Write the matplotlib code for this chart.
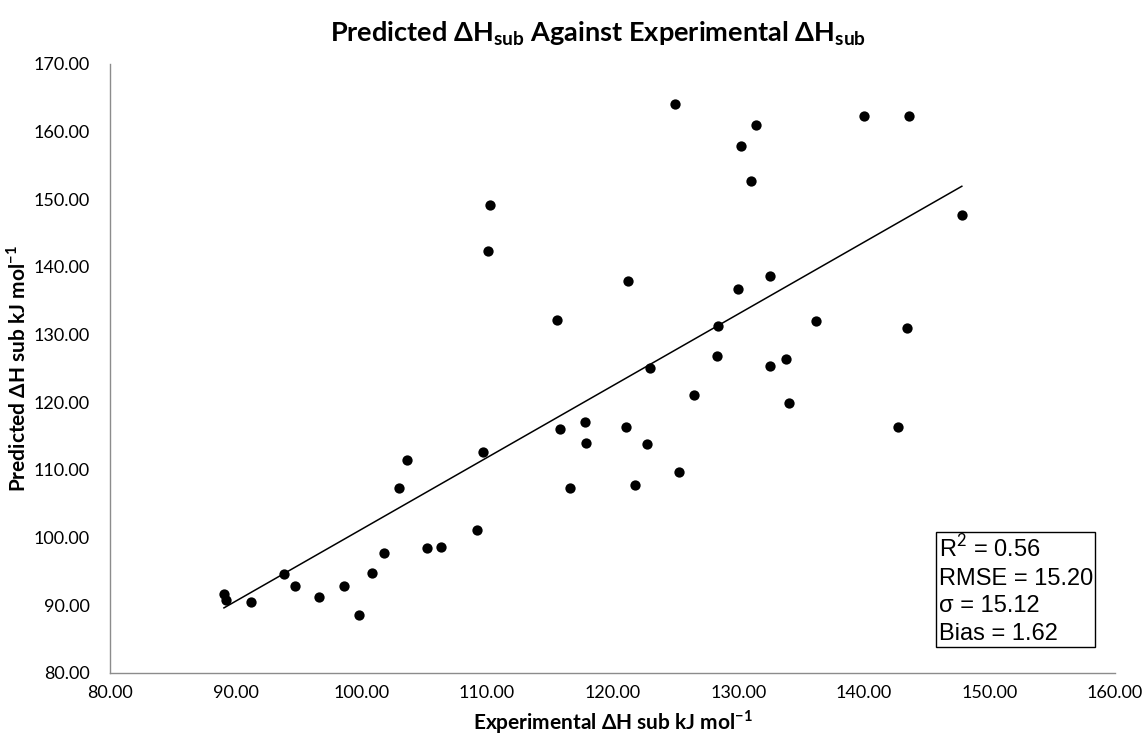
import numpy as np
import matplotlib
matplotlib.use("Agg")
import matplotlib.pyplot as plt

plt.rcParams['font.family'] = ['Lato', 'DejaVu Sans']
plt.rcParams['mathtext.fontset'] = 'custom'
plt.rcParams['mathtext.rm'] = 'Lato'
plt.rcParams['mathtext.bf'] = 'Lato:bold'

# Experimental vs predicted enthalpy of sublimation (kJ/mol)
experimental = [89.05, 89.19, 91.2, 93.8, 94.7, 96.6, 98.6, 99.8, 100.8,
                101.8, 103.0, 103.6, 105.2, 106.3, 109.2, 109.7, 115.8, 116.6,
                117.8, 117.9, 121.1, 121.8, 122.7, 125.3, 126.5,
                125.0, 131.4, 130.2, 131.0, 110.2, 110.1, 121.2, 115.6, 130.0,
                132.5, 128.4, 128.3, 132.5, 123.0,
                140.0, 143.6, 147.8, 136.2, 143.4, 133.8, 134.0, 142.7]
predicted = [91.6, 90.75, 90.4, 94.6, 92.8, 91.25, 92.8, 88.55, 94.8,
             97.65, 107.3, 111.45, 98.5, 98.65, 101.05, 112.7, 116.1, 107.35,
             117.1, 114.0, 116.3, 107.8, 113.85, 109.7, 121.1,
             164.15, 161.0, 157.85, 152.75, 149.15, 142.4, 137.9, 132.15, 136.8,
             138.6, 131.3, 126.75, 125.35, 125.0,
             162.25, 162.3, 147.65, 132.05, 131.0, 126.35, 119.9, 116.4]

x_ticks = [80, 90, 100, 110, 120, 130, 140, 150, 160]
y_ticks = [80, 90, 100, 110, 120, 130, 140, 150, 160, 170]
stats_lines = ["R$^2$ = 0.56", "RMSE = 15.20", "σ = 15.12", "Bias = 1.62"]

fig = plt.figure(figsize=(11.44, 7.38), dpi=100)
ax = fig.add_axes([0.0964, 0.0885, 0.8783, 0.8248])

x = np.array(experimental)
y = np.array(predicted)
ax.scatter(x, y, s=55, color='black', zorder=3, linewidths=0)

# Linear trend line across the data range
slope, intercept = np.polyfit(x, y, 1)
xs = np.array([x.min(), x.max()])
ax.plot(xs, slope * xs + intercept, color='black', lw=1.1, zorder=2)

ax.set_xlim(80, 160)
ax.set_ylim(80, 170)
ax.set_xticks(x_ticks)
ax.set_yticks(y_ticks)
ax.set_xticklabels([f"{v:.2f}" for v in x_ticks], fontsize=13)
ax.set_yticklabels([f"{v:.2f}" for v in y_ticks], fontsize=13)
ax.tick_params(axis='y', length=0, pad=15)
ax.tick_params(axis='x', length=0, pad=9)
for side in ('top', 'right'):
    ax.spines[side].set_visible(False)
for side in ('left', 'bottom'):
    ax.spines[side].set_color('#8c8c8c')
    ax.spines[side].set_linewidth(1.0)

ax.set_xlabel(r"Experimental ΔH sub kJ mol$^{\mathbf{-1}}$", fontsize=15,
              fontweight='bold', labelpad=5)
ax.set_ylabel(r"Predicted ΔH sub kJ mol$^{\mathbf{-1}}$", fontsize=15,
              fontweight='bold', labelpad=3)
fig.suptitle(r"Predicted ΔH$_{\mathbf{sub}}$ Against Experimental ΔH$_{\mathbf{sub}}$",
             fontsize=19.5, fontweight='bold', x=0.523, y=0.974)

ax.text(0.8245, 0.046, "\n".join(stats_lines), transform=ax.transAxes,
        family=['Liberation Sans', 'DejaVu Sans'], fontsize=17,
        linespacing=1.32, va='bottom', ha='left',
        bbox=dict(boxstyle='square,pad=0.1', facecolor='white',
                  edgecolor='black', linewidth=1.0))

fig.savefig("out.png", dpi=100)
